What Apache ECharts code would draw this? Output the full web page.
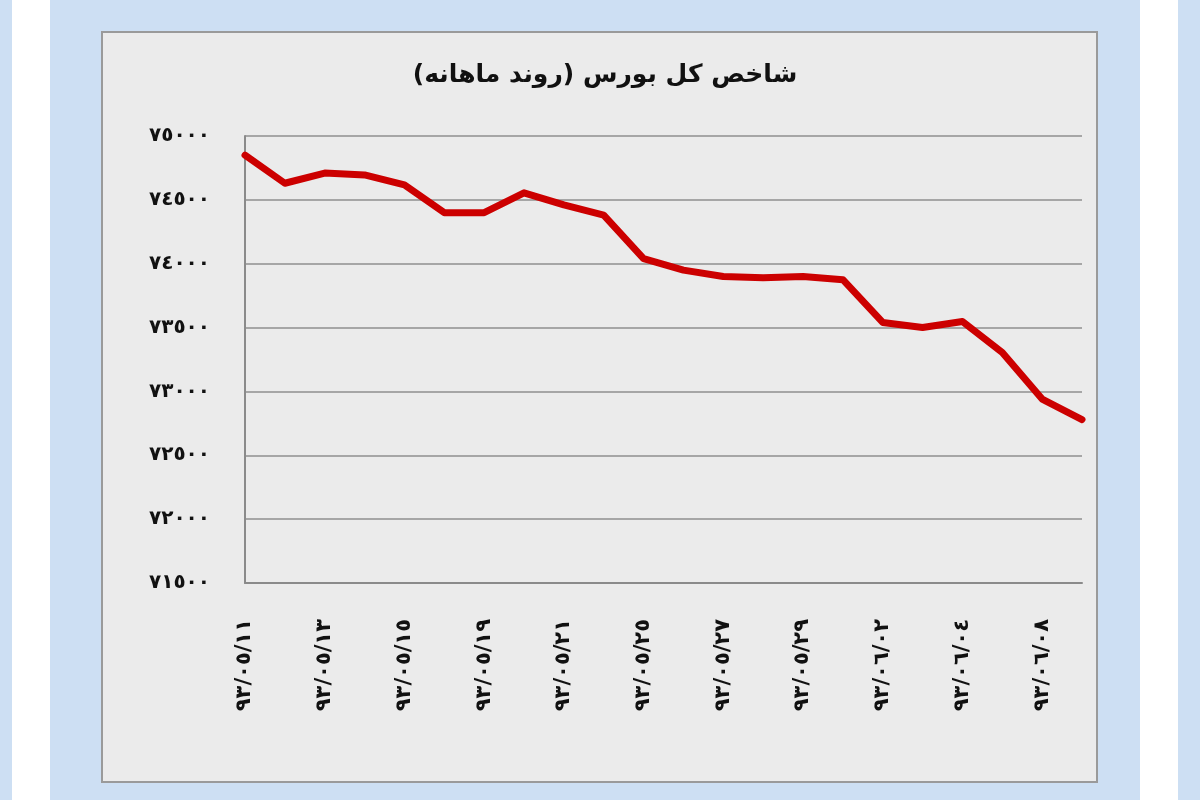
<!DOCTYPE html>
<html>
<head>
<meta charset="utf-8">
<script src="https://cdn.jsdelivr.net/npm/echarts@6/dist/echarts.min.js"></script>
<style>
html,body{margin:0;padding:0;background:#cddff3;}
#c{width:1200px;height:800px;}
</style>
</head>
<body>
<div id="c"></div>
<script>
// Labelled dates (shown every other point)
const tickLabels = ['٩٣/٠٥/١١','٩٣/٠٥/١٣','٩٣/٠٥/١٥','٩٣/٠٥/١٩','٩٣/٠٥/٢١','٩٣/٠٥/٢٥','٩٣/٠٥/٢٧','٩٣/٠٥/٢٩','٩٣/٠٦/٠٢','٩٣/٠٦/٠٤','٩٣/٠٦/٠٨'];
// Index values, one per trading day
const values = [74850, 74630, 74710, 74695, 74617, 74400, 74400, 74555, 74460, 74380, 74040, 73950, 73900, 73890, 73900, 73875, 73540, 73500, 73547, 73305, 72940, 72780];
const yTickLabels = ['٧١٥٠٠','٧٢٠٠٠','٧٢٥٠٠','٧٣٠٠٠','٧٣٥٠٠','٧٤٠٠٠','٧٤٥٠٠','٧٥٠٠٠'];
const title = 'شاخص کل بورس (روند ماهانه)';

const categories = values.map((v, i) => (i % 2 === 0 ? tickLabels[i / 2] : ''));

const chart = echarts.init(document.getElementById('c'));
chart.setOption({
  backgroundColor: '#cddff3',
  animation: false,
  graphic: [
    {type: 'rect', z: -10, silent: true, shape: {x: 12, y: 0, width: 38, height: 800}, style: {fill: '#ffffff'}},
    {type: 'rect', z: -10, silent: true, shape: {x: 1140, y: 0, width: 38, height: 800}, style: {fill: '#ffffff'}},
    {type: 'rect', z: -9, silent: true, shape: {x: 102, y: 32, width: 995, height: 750}, style: {fill: '#ebebeb', stroke: '#9a9a9a', lineWidth: 2}}
  ],
  title: {
    text: title,
    left: 600, top: 58, textAlign: 'center',
    textStyle: {fontFamily: 'DejaVu Sans', fontWeight: 'bold', fontSize: 25, color: '#111'}
  },
  grid: {left: 245, right: 118, top: 136, bottom: 217},
  xAxis: {
    type: 'category',
    data: categories,
    boundaryGap: false,
    axisLine: {lineStyle: {color: '#8a8a8a', width: 2}},
    axisTick: {show: false},
    axisLabel: {
      interval: 0, rotate: 90, margin: 36,
      fontFamily: 'DejaVu Sans', fontWeight: 'bold', fontSize: 21, color: '#111'
    },
    splitLine: {show: false}
  },
  yAxis: {
    type: 'value',
    min: 71500, max: 75000, interval: 500,
    axisLine: {show: true, lineStyle: {color: '#8a8a8a', width: 2}},
    axisTick: {show: false},
    axisLabel: {
      margin: 35,
      fontFamily: 'DejaVu Sans', fontWeight: 'bold', fontSize: 20, color: '#111',
      formatter: v => yTickLabels[Math.round((v - 71500) / 500)]
    },
    splitLine: {lineStyle: {color: '#a6a6a6', width: 2}}
  },
  series: [{
    type: 'line',
    data: values,
    symbol: 'none',
    lineStyle: {color: '#cc0000', width: 7, join: 'round', cap: 'round'}
  }]
});
</script>
</body>
</html>
